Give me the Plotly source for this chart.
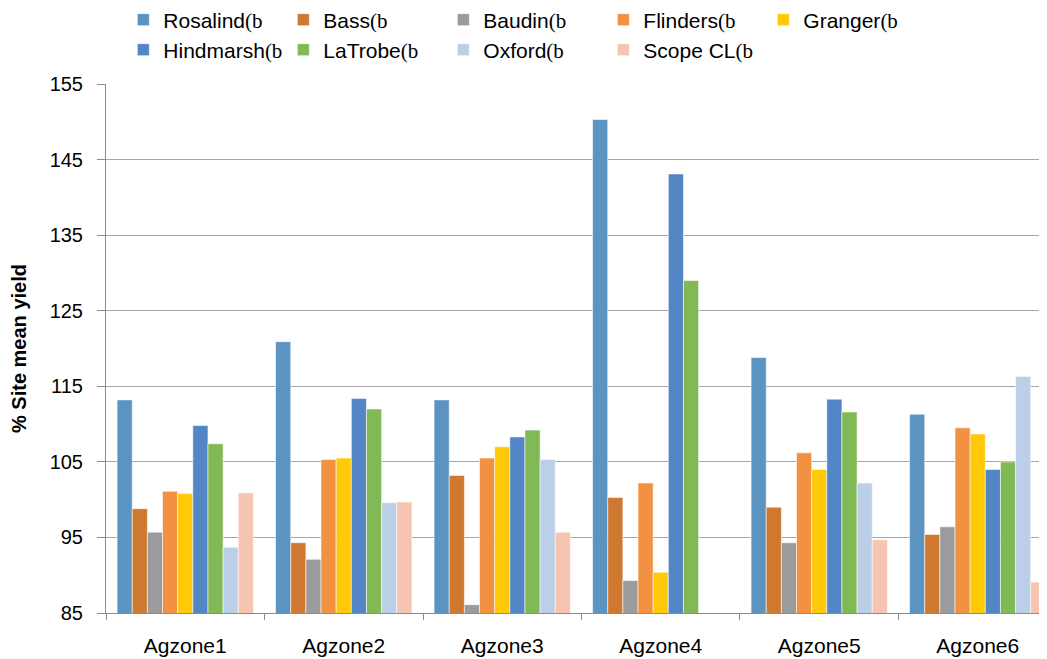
import plotly.graph_objects as go

categories = ["Agzone1", "Agzone2", "Agzone3", "Agzone4", "Agzone5", "Agzone6"]

rosalind  = [113.2, 120.9, 113.2, 150.3, 118.8, 111.3]
bass      = [98.8, 94.3, 103.2, 100.3, 99.0, 95.4]
baudin    = [95.7, 92.1, 86.1, 89.3, 94.3, 96.4]
flinders  = [101.1, 105.3, 105.5, 102.2, 106.2, 109.5]
granger   = [100.8, 105.5, 107.0, 90.4, 104.0, 108.7]
hindmarsh = [109.8, 113.4, 108.3, 143.1, 113.3, 104.0]
latrobe   = [107.4, 112.0, 109.2, 129.0, 111.6, 105.0]
oxford    = [93.7, 99.6, 105.3, None, 102.2, 116.3]
scope_cl  = [100.9, 99.7, 95.7, None, 94.7, 89.1]

series_names = ["Rosalind", "Bass", "Baudin", "Flinders", "Granger",
                "Hindmarsh", "LaTrobe", "Oxford", "Scope CL"]
series_values = [rosalind, bass, baudin, flinders, granger,
                 hindmarsh, latrobe, oxford, scope_cl]
colors = ["#5B93C1", "#CF7830", "#9B9B9B", "#F19141", "#FFC908",
          "#5386C5", "#82B957", "#BCCFE8", "#F6C5B2"]

y_ticks = [85, 95, 105, 115, 125, 135, 145, 155]

suffix = "<span style='font-family:Liberation Serif'>(b</span>"

W, H = 1039, 651  # page body adds an 8px offset

fig = go.Figure()
for i, (name, vals, col) in enumerate(zip(series_names, series_values, colors)):
    fig.add_trace(go.Bar(
        x=categories, y=vals, name=name + suffix,
        legend="legend" if i < 5 else "legend2",
        marker=dict(color=col, line=dict(color="rgba(255,255,255,0.55)", width=1)),
    ))

legend_common = dict(
    orientation="h", xref="container", yref="container",
    x=0.111, xanchor="left", yanchor="middle",
    entrywidth=115, itemwidth=30, font=dict(size=21),
    traceorder="normal", bgcolor="rgba(0,0,0,0)",
)

fig.update_layout(
    width=W, height=H,
    paper_bgcolor="white", plot_bgcolor="white",
    margin=dict(l=98, r=0, t=76, b=46),
    barmode="group", bargap=0.14, bargroupgap=0,
    font=dict(family="Liberation Sans, Arial, sans-serif", size=20, color="#000"),
    legend=dict(legend_common, y=1 - 12 / H),
    legend2=dict(legend_common, y=1 - 42 / H),
    showlegend=True,
)

fig.update_xaxes(
    range=[-0.5, 5.437], showline=True, linecolor="#8C8C8C", linewidth=1,
    ticks="outside", tickson="boundaries", ticklen=6, tickcolor="#8C8C8C",
    showgrid=False, tickfont=dict(size=21), ticklabelstandoff=14,
)
fig.update_yaxes(
    range=[85, 155], tickvals=y_ticks, showline=True, linecolor="#8C8C8C",
    linewidth=1, ticks="outside", ticklen=8, tickcolor="#8C8C8C",
    showgrid=True, gridcolor="#A6A6A6", gridwidth=1, zeroline=False,
    tickfont=dict(size=20), ticklabelstandoff=10,
    title=dict(text="<b>% Site mean yield</b>", font=dict(size=20), standoff=22),
)

fig.write_html("out.html")
